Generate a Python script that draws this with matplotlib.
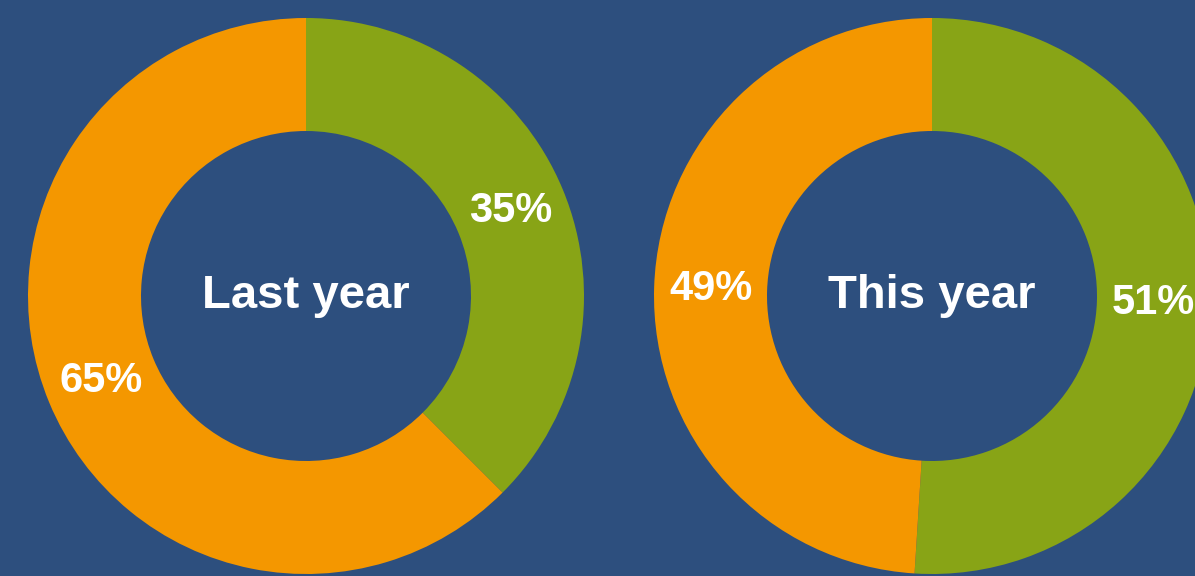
import matplotlib
matplotlib.use("Agg")
import matplotlib.pyplot as plt

# Data
chart_titles = ["Last year", "This year"]
categories = ["Green", "Orange"]
last_year_values = [37.5, 62.5]
this_year_values = [51, 49]
last_year_labels = ["35%", "65%"]
this_year_labels = ["51%", "49%"]

BG = "#2d4f7e"
GREEN = "#88a416"
ORANGE = "#f49700"

W, H = 1195, 576
fig = plt.figure(figsize=(W / 100, H / 100), dpi=100, facecolor=BG)
ax = fig.add_axes([0, 0, 1, 1])
ax.set_facecolor(BG)

R_OUT = 278
R_IN = 165
ring_w = R_OUT - R_IN
label_r = (R_OUT + R_IN) / 2 / R_OUT

centers = [(306, H - 296), (932, H - 296)]
datasets = [(last_year_values, last_year_labels), (this_year_values, this_year_labels)]

for (cx, cy), (vals, labs), title in zip(centers, datasets, chart_titles):
    wedges, texts = ax.pie(
        vals, labels=labs, colors=[GREEN, ORANGE], startangle=90, counterclock=False,
        radius=R_OUT, center=(cx, cy), labeldistance=label_r,
        wedgeprops=dict(width=ring_w, linewidth=0),
        textprops=dict(color="white", fontsize=30, fontweight="bold",
                       family="Liberation Sans"),
        frame=False,
    )
    for t in texts:
        t.set_horizontalalignment("center")
        t.set_verticalalignment("center")
    ax.text(cx, cy, title, ha="center", va="center", color="white",
            fontsize=34, fontweight="bold", family="Liberation Sans")

ax.set_xlim(0, W)
ax.set_ylim(0, H)
ax.set_aspect("equal")
ax.axis("off")

fig.savefig("out.png", dpi=100, facecolor=BG)
